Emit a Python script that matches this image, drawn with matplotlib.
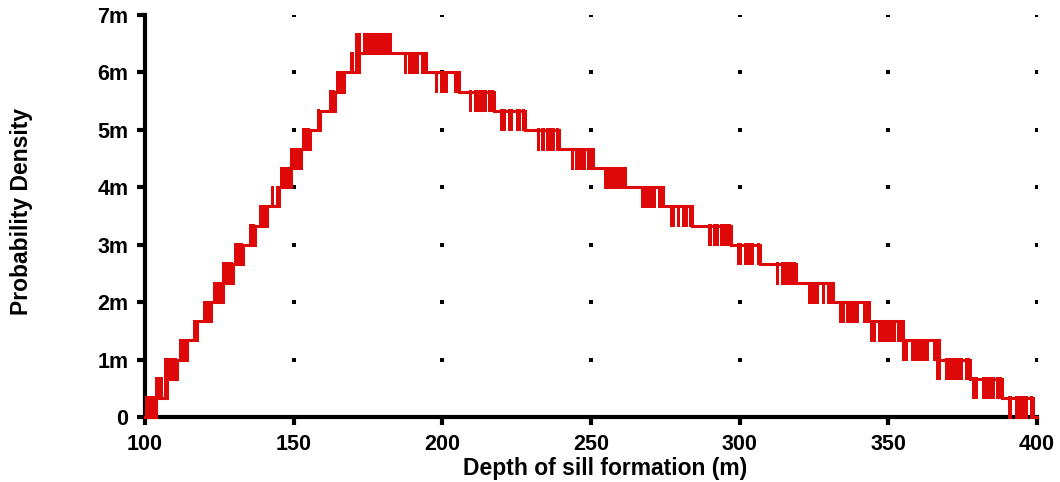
import numpy as np
import matplotlib
matplotlib.use("Agg")
import matplotlib.pyplot as plt
from matplotlib.ticker import FixedLocator, FuncFormatter

plt.rcParams['font.family'] = ['Liberation Sans', 'DejaVu Sans']
plt.rcParams['font.weight'] = 'bold'

# density is quantised in steps of 1/3000 (one "level")
level_step = 1.0 / 3000

# flicker spans (depth, m) for each rising step: level k -> k+1
rise_bars = [
    [(100.0, 103.6)],
    [(103.4, 106.2), (106.4, 107.5)],
    [(106.4, 110.7)],
    [(111.5, 114.0)],
    [(116.3, 117.4)],
    [(119.6, 122.2)],
    [(123.0, 126.1)],
    [(126.0, 129.5)],
    [(130.0, 132.9)],
    [(135.0, 137.0)],
    [(138.3, 140.9)],
    [(142.4, 143.4), (144.1, 145.1)],
    [(145.4, 149.0)],
    [(148.8, 152.5)],
    [(152.8, 155.5)],
    [(158.0, 158.9)],
    [(161.9, 163.9)],
    [(164.2, 166.9)],
    [(168.9, 170.3), (170.7, 172.0)],
    [(170.6, 172.5), (173.4, 175.1)],
]

# flicker spans for each falling step: level k -> k-1 (from 20 down to 0)
fall_bars = [
    [(175.8, 182.4)],
    [(187.1, 188.2), (188.6, 192.2), (192.8, 194.5)],
    [(197.5, 198.4), (199.2, 201.8), (203.9, 205.7)],
    [(209.0, 210.1), (210.7, 214.9), (215.5, 217.4)],
    [(219.4, 221.3), (222.0, 223.8), (224.7, 226.5), (226.7, 227.8)],
    [(231.7, 232.8), (233.2, 234.5), (234.9, 237.9), (238.2, 239.4)],
    [(243.3, 244.3), (244.6, 248.2), (248.6, 250.6)],
    [(254.4, 261.4)],
    [(266.7, 271.9), (272.5, 274.1)],
    [(276.6, 278.3), (278.8, 279.9), (280.6, 282.5), (283.0, 283.9)],
    [(289.5, 290.6), (290.9, 293.0), (293.4, 297.0)],
    [(299.2, 300.9), (301.6, 304.9), (305.7, 306.8)],
    [(312.2, 313.1), (313.9, 318.8)],
    [(323.0, 326.8), (327.7, 328.7), (329.5, 331.3)],
    [(333.4, 335.4), (335.8, 340.1), (341.6, 343.5)],
    [(343.8, 345.7), (346.6, 352.5), (353.0, 354.8)],
    [(354.7, 356.5), (357.6, 363.7), (365.1, 367.0)],
    [(366.0, 367.7), (369.1, 375.0), (375.8, 377.5)],
    [(378.3, 380.1), (381.6, 385.9), (386.2, 388.3)],
    [(390.2, 391.7), (392.6, 396.9), (397.7, 398.8)],
]

x_min, x_max = 100, 400
x_ticks = [100, 150, 200, 250, 300, 350, 400]
y_ticks = [0, 0.001, 0.002, 0.003, 0.004, 0.005, 0.006, 0.007]

red = '#df0808'

fig = plt.figure(figsize=(10.6, 4.82), dpi=100)
ax = fig.add_axes([145 / 1060, 65 / 482, 892 / 1060, 402 / 482])
ax.set_xlim(x_min, x_max)
ax.set_ylim(0, 0.007)

# half a line width, in data units, so blocks line up with the step line
half_lw = 1.5 * 0.007 / 402

steps = [(k, k + 1, b) for k, b in enumerate(rise_bars)]
steps += [(20 - k, 19 - k, b) for k, b in enumerate(fall_bars)]

xs = [x_min]
ys = [0]
for lev_from, lev_to, bars in steps:
    lo = min(lev_from, lev_to) * level_step
    for a, b in bars:
        ax.bar(a, level_step + 2 * half_lw, width=b - a, bottom=lo - half_lw,
               align='edge', color=red, linewidth=0, zorder=3, clip_on=False)
    xs.append(bars[-1][1])
    ys.append(lev_to * level_step)
xs.append(x_max)
ys.append(0)
ax.plot(xs, ys, drawstyle='steps-post', color=red, lw=2.2, zorder=3,
        clip_on=False, solid_joinstyle='miter')

# dot grid at tick intersections
gx, gy = np.meshgrid(x_ticks[1:], y_ticks[1:])
ax.plot(gx.ravel(), gy.ravel(), ls='none', marker='s', ms=2.3, color='black',
        mew=0, zorder=1)

for s in ['top', 'right']:
    ax.spines[s].set_visible(False)
for s in ['left', 'bottom']:
    ax.spines[s].set_linewidth(3.0)

ax.xaxis.set_major_locator(FixedLocator(x_ticks))
ax.yaxis.set_major_locator(FixedLocator(y_ticks))
ax.yaxis.set_major_formatter(FuncFormatter(
    lambda v, p: '0' if abs(v) < 1e-9 else '%dm' % round(v * 1000)))
ax.tick_params(axis='both', which='major', length=6, width=3.0,
               labelsize=15.5, pad=6)
for lab in ax.get_xticklabels() + ax.get_yticklabels():
    lab.set_fontweight('bold')

ax.set_xlabel('Depth of sill formation (m)', fontsize=16.5, fontweight='bold')
ax.set_ylabel('Probability Density', fontsize=16.5, fontweight='bold')
ax.xaxis.set_label_coords(0.516, -0.1)
ax.yaxis.set_label_coords(-0.125, 0.511)

fig.savefig('out.png', dpi=100)
